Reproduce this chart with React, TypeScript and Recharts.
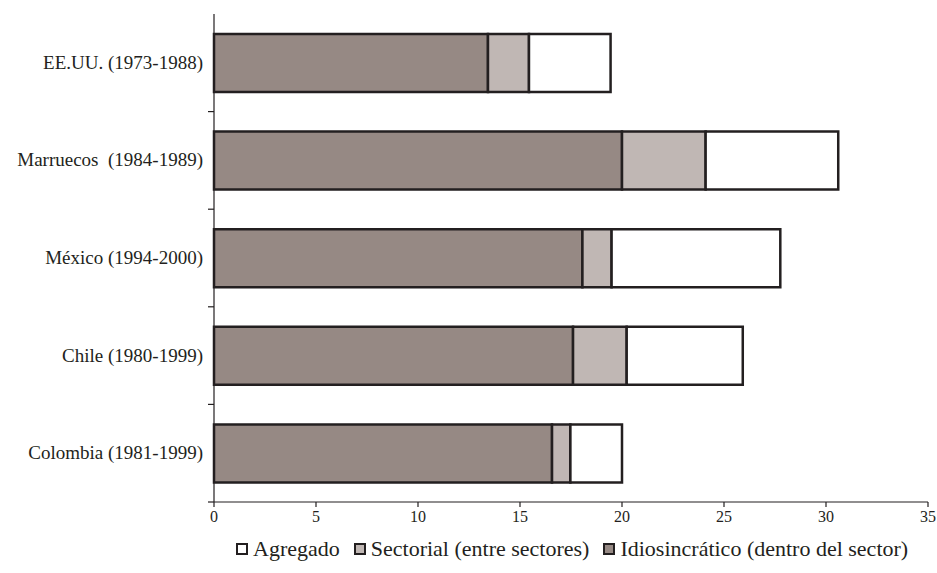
import React from 'react';
import { BarChart, Bar, XAxis, YAxis, Legend } from 'recharts';

const categories = [
  'EE.UU. (1973-1988)',
  'Marruecos  (1984-1989)',
  'México (1994-2000)',
  'Chile (1980-1999)',
  'Colombia (1981-1999)',
];
const idiosincratico = [13.43, 20.0, 18.06, 17.6, 16.57];
const sectorial = [2.01, 4.1, 1.43, 2.63, 0.9];
const agregado = [4.0, 6.5, 8.27, 5.69, 2.53];
const xTicks = [0, 5, 10, 15, 20, 25, 30, 35];

const NAME_IDIO = 'Idiosincrático (dentro del sector)';
const NAME_SECT = 'Sectorial (entre sectores)';
const NAME_AGG = 'Agregado';

const COL_IDIO = '#968984';
const COL_SECT = '#c0b7b4';
const COL_AGG = '#ffffff';
const INK = '#231f20';
const FONT = '"Liberation Serif", "Times New Roman", serif';

const data = categories.map((name, i) => ({
  name,
  idio: idiosincratico[i],
  sect: sectorial[i],
  agg: agregado[i],
}));

const W = 937;
const H = 573;
const MARGIN = { top: 14, right: 9, left: 0, bottom: 41 };
const X_AXIS_H = 30;
const PLOT_H = H - MARGIN.top - MARGIN.bottom - X_AXIS_H;
const BAND = PLOT_H / categories.length;

const YTick = (props: any) => {
  const { x, y, payload } = props;
  return (
    <g>
      <text
        x={x}
        y={y}
        dy={6}
        textAnchor="end"
        fontSize={19}
        fill={INK}
        fontFamily={FONT}
        style={{ whiteSpace: 'pre' }}
      >
        {payload.value}
      </text>
      <line x1={x + 5} x2={x + 11} y1={y + BAND / 2} y2={y + BAND / 2} stroke={INK} strokeWidth={1.2} />
    </g>
  );
};

const legendItems = [
  { name: NAME_AGG, fill: COL_AGG },
  { name: NAME_SECT, fill: COL_SECT },
  { name: NAME_IDIO, fill: COL_IDIO },
];

const LegendContent = () => (
  <div
    style={{
      display: 'flex',
      alignItems: 'center',
      height: 26,
      fontFamily: FONT,
      fontSize: 22,
      color: INK,
      whiteSpace: 'nowrap',
    }}
  >
    {legendItems.map((it) => (
      <span key={it.name} style={{ display: 'flex', alignItems: 'center', marginRight: 14 }}>
        <svg width={12} height={12} style={{ display: 'block' }}>
          <rect x={1} y={1} width={10} height={10} fill={it.fill} stroke={INK} strokeWidth={2} />
        </svg>
        <span style={{ marginLeft: 5 }}>{it.name}</span>
      </span>
    ))}
  </div>
);

export default function App() {
  return (
    <div style={{ position: 'absolute', left: 0, top: 0, width: W, height: H, background: '#fff' }}>
      <BarChart width={W} height={H} data={data} layout="vertical" margin={MARGIN} barSize={58}>
        <XAxis
          type="number"
          domain={[0, 35]}
          ticks={xTicks}
          interval={0}
          height={X_AXIS_H}
          tick={{ fontSize: 16, fill: INK, fontFamily: FONT }}
          tickSize={5}
          tickMargin={4}
          axisLine={{ stroke: INK, strokeWidth: 1.2 }}
          tickLine={{ stroke: INK, strokeWidth: 1.2 }}
        />
        <YAxis
          type="category"
          dataKey="name"
          width={214}
          tick={<YTick />}
          tickLine={false}
          tickSize={6}
          tickMargin={5}
          interval={0}
          axisLine={{ stroke: INK, strokeWidth: 1.2 }}
        />
        <Legend
          layout="horizontal"
          verticalAlign="middle"
          align="center"
          content={<LegendContent />}
          wrapperStyle={{ left: 236, top: 536, width: 701, height: 26 }}
        />
        <Bar dataKey="idio" name={NAME_IDIO} stackId="a" fill={COL_IDIO} stroke={INK} strokeWidth={2.5} isAnimationActive={false} />
        <Bar dataKey="sect" name={NAME_SECT} stackId="a" fill={COL_SECT} stroke={INK} strokeWidth={2.5} isAnimationActive={false} />
        <Bar dataKey="agg" name={NAME_AGG} stackId="a" fill={COL_AGG} stroke={INK} strokeWidth={2.5} isAnimationActive={false} />
      </BarChart>
    </div>
  );
}
